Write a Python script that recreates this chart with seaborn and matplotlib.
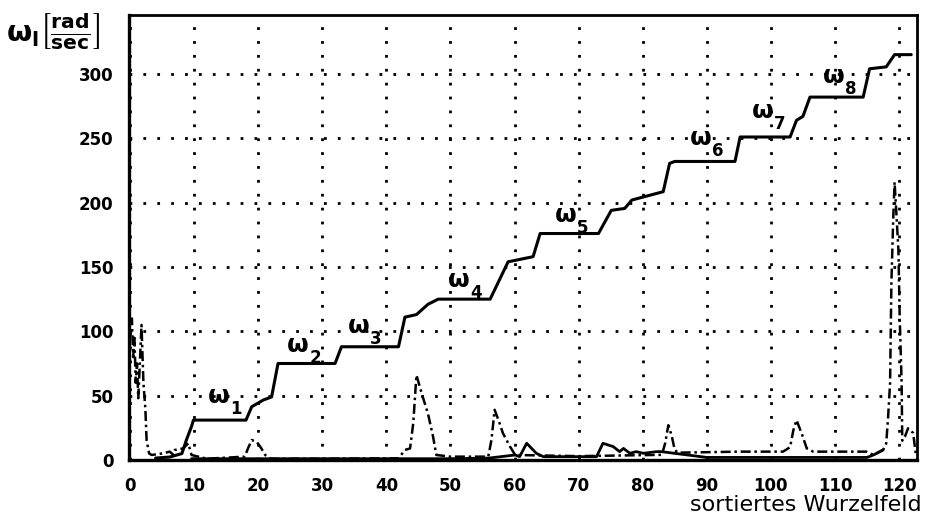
import matplotlib
matplotlib.use("Agg")
import matplotlib.pyplot as plt
import seaborn as sns
import pandas as pd

# staircase omega_l over sorted root field
stair_x = [4.0, 6.2, 8.1, 8.8, 9.6, 9.9, 18.1, 19.0, 20.8, 22.1, 22.6, 23.1, 32.0, 33.0,
           41.9, 42.9, 44.7, 46.5, 48.1, 56.2, 59.0, 62.9, 64.0, 73.1, 75.1, 77.2, 78.3,
           83.2, 84.2, 85.0, 94.4, 95.2, 103.0, 104.0, 105.0, 106.1, 114.4, 115.4, 118.0,
           119.3, 121.9]
stair_y = [1.5, 2.3, 5.0, 15.5, 26.0, 31.0, 31.0, 41.4, 46.6, 49.0, 62.0, 75.0, 75.0, 88.0,
           88.0, 111.0, 113.0, 121.0, 125.0, 125.0, 154.0, 158.0, 176.0, 176.0, 194.0, 195.5, 202.0,
           208.5, 230.5, 232.0, 232.0, 251.0, 251.0, 264.0, 267.0, 282.0, 282.0, 304.0, 305.5,
           315.0, 315.0]

# low solid curve
low_x = [9.6, 20.0, 30.0, 40.0, 50.0, 56.0, 60.1, 60.8, 61.9, 63.4, 64.5, 72.8, 73.8, 75.4,
         76.4, 77.0, 78.0, 79.0, 80.1, 82.2, 82.9, 90.0, 100.0, 110.0, 115.0, 116.0, 117.5]
low_y = [1.0, 1.0, 1.0, 1.0, 1.0, 1.5, 3.9, 2.6, 13.0, 5.2, 2.6, 2.6, 13.0, 10.4,
         6.5, 9.0, 5.2, 6.5, 5.2, 6.5, 6.5, 2.0, 2.0, 2.0, 2.0, 3.9, 7.8]

# dash-dot curve
dd_x = [0.0, 0.3, 0.5, 0.7, 0.9, 1.1, 1.3, 1.8, 2.1, 2.4, 2.6, 3.0, 3.4, 5.2, 6.2, 6.8, 7.0,
        8.3, 9.1, 9.6, 12.0, 17.9, 18.5, 19.0, 19.8, 20.5, 21.1, 22.0, 30.0, 41.9, 42.9,
        43.7, 44.2, 44.7, 45.5, 46.5, 47.3, 47.8, 50.0, 55.9, 56.4, 56.9, 57.5, 58.2, 59.3,
        60.1, 70.0, 83.0, 83.5, 84.0, 84.5, 85.0, 85.5, 95.2, 101.9, 103.0, 103.5, 104.0,
        104.8, 105.6, 106.6, 114.9, 116.0, 117.5, 118.0, 118.3, 118.6, 118.8, 119.1, 119.3,
        119.6, 119.9, 120.1, 120.4, 120.5, 120.9, 121.4, 122.2, 122.6]
dd_y = [108.0, 110.0, 80.0, 95.0, 60.0, 75.0, 48.0, 105.0, 60.0, 40.0, 15.0, 5.0, 3.9, 5.2,
        6.5, 3.9, 7.8, 9.0, 13.0, 3.9, 1.0, 2.6, 10.0, 15.5, 14.0, 9.0, 3.9, 1.0, 1.0, 1.3,
        7.8, 9.0, 28.5, 66.0, 52.0, 36.0, 18.0, 3.9, 2.6, 2.6, 15.5, 39.0, 31.0, 20.7, 10.4,
        3.9, 3.0, 4.0, 13.0, 27.0, 19.4, 7.8, 5.7, 6.5, 6.5, 10.0, 23.0, 31.0,
        20.7, 9.0, 6.5, 6.5, 3.9, 7.8, 13.0, 34.0, 60.0, 137.0, 189.0, 216.0,
        190.0, 163.0, 111.0, 60.0, 15.0, 18.0, 24.6, 21.0, 5.0]

# omega labels (baseline-left of the omega glyph)
lab_sub = ["1", "2", "3", "4", "5", "6", "7", "8"]
lab_x = [12.2, 24.5, 34.0, 49.6, 66.3, 87.4, 97.0, 108.1]
lab_y = [44.3, 83.9, 98.7, 134.4, 184.9, 244.8, 265.7, 292.9]

x_ticks = list(range(0, 121, 10))
y_ticks = list(range(0, 301, 50))

sns.set_style("white")
plt.rcParams["font.family"] = ["DejaVu Sans"]
plt.rcParams["mathtext.fontset"] = "dejavusans"
plt.rcParams["mathtext.default"] = "bf"
plt.rcParams["text.color"] = "black"
plt.rcParams["xtick.color"] = "black"
plt.rcParams["ytick.color"] = "black"
plt.rcParams["xtick.labelcolor"] = "black"
plt.rcParams["ytick.labelcolor"] = "black"

fig = plt.figure(figsize=(9.26, 5.15), dpi=100)
ax = fig.add_axes([129 / 926, 1 - 460 / 515, (917 - 129) / 926, (460 - 15) / 515])

df_stair = pd.DataFrame({"x": stair_x, "y": stair_y})
df_low = pd.DataFrame({"x": low_x, "y": low_y})
df_dd = pd.DataFrame({"x": dd_x, "y": dd_y})

sns.lineplot(data=df_dd, x="x", y="y", ax=ax, sort=False, estimator=None, color="black",
             lw=1.8, linestyle=(0, (4, 1.5, 1, 1.5)), zorder=3)
sns.lineplot(data=df_low, x="x", y="y", ax=ax, sort=False, estimator=None, color="black",
             lw=2.0, zorder=4)
sns.lineplot(data=df_stair, x="x", y="y", ax=ax, sort=False, estimator=None, color="black",
             lw=2.2, zorder=5)

ax.set_xlim(-0.15, 122.8)
ax.set_ylim(0, 345.8)
ax.set_xticks(x_ticks)
ax.set_yticks(y_ticks)
ax.set_xticklabels([str(v) for v in x_ticks], weight="bold", fontsize=12, color="black")
ax.set_yticklabels([str(v) for v in y_ticks], weight="bold", fontsize=12, color="black")
ax.tick_params(axis="both", direction="inout", length=10, width=2, color="black")
ax.tick_params(axis="x", pad=7)
ax.tick_params(axis="y", pad=6)
ax.set_xlabel("")
ax.set_ylabel("")
ax.grid(True, color="black", linestyle=(0, (1, 4)), linewidth=2)

for s in ["left", "bottom"]:
    ax.spines[s].set_linewidth(2.4)
for s in ["top", "right"]:
    ax.spines[s].set_linewidth(2.0)
for s in ax.spines.values():
    s.set_color("black")
    s.set_zorder(6)

for sub, lx, ly in zip(lab_sub, lab_x, lab_y):
    ax.annotate("ω", (lx, ly), ha="left", va="baseline", fontsize=18, weight="bold",
                color="black", zorder=7)
    ax.annotate(sub, (lx, ly), xytext=(16, -8), textcoords="offset points",
                ha="left", va="baseline", fontsize=12, weight="bold", color="black", zorder=7)

fig.text(6 / 926, 1 - 31 / 515, r"$\omega_{l}\left[\frac{rad}{sec}\right]$",
         ha="left", va="center", fontsize=21, color="black")
fig.text(922 / 926, 1 - 511 / 515, "sortiertes Wurzelfeld", ha="right", va="baseline",
         fontsize=16, color="black")

fig.savefig("out.png", dpi=100)
